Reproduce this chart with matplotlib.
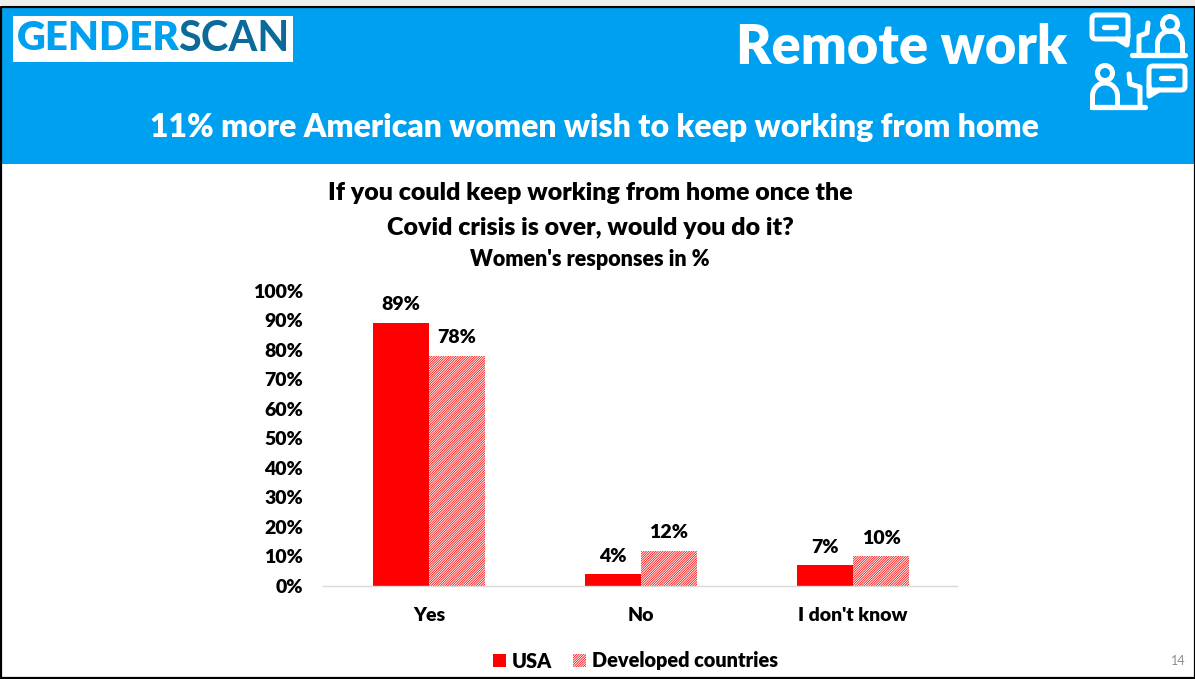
#!/usr/bin/env python3
"""Remote work slide: women's wish to keep working from home, USA vs developed countries."""

import numpy as np
import matplotlib
matplotlib.use('Agg')
import matplotlib.pyplot as plt
from matplotlib.patches import FancyBboxPatch, Rectangle, Circle, Arc

plt.rcParams['font.family'] = ['Lato', 'DejaVu Sans']
plt.rcParams['hatch.linewidth'] = 0.55

categories = ['Yes', 'No', "I don't know"]
usa = [89, 4, 7]
developed = [78, 12, 10]
y_ticks = [0, 10, 20, 30, 40, 50, 60, 70, 80, 90, 100]

W, H = 1195, 679
BLUE = '#00A0F0'
RED = '#FF0000'
DARK = '#0B6A9A'
WEIGHT = 'heavy'

fig = plt.figure(figsize=(W / 100, H / 100), dpi=100, facecolor='white')

# Overlay in pixel coordinates for the slide furniture
bg = fig.add_axes([0, 0, 1, 1])
bg.set_xlim(0, W)
bg.set_ylim(H, 0)
bg.axis('off')

bg.add_patch(Rectangle((1, 7), W - 1, 157, fc=BLUE, ec='none'))
bg.plot([1, 1, W, W, 1], [678, 6.5, 6.5, 678, 678], color='black', lw=1.6, clip_on=False)
bg.add_patch(Rectangle((0, 0), W, 5, fc='#EDEDED', ec='none'))

# Logo
bg.add_patch(Rectangle((13, 16), 280, 46, fc='white', ec='none'))
bg.text(17, 39, 'GENDER', color=BLUE, fontsize=28.8, fontweight=WEIGHT, va='center', ha='left')
bg.text(289, 39, 'SCAN', color=DARK, fontsize=30, fontweight='bold', va='center', ha='right')

bg.text(902, 48, 'Remote work', color='white', fontsize=39, fontweight=WEIGHT, va='center', ha='center')
bg.text(594, 128, '11% more American women wish to keep working from home', color='white',
        fontsize=23, fontweight=WEIGHT, va='center', ha='center')


def bubble(x, y, w, h, tail, dash):
    bg.add_patch(FancyBboxPatch((x, y), w, h, boxstyle='round,pad=0,rounding_size=4',
                                fc='none', ec='white', lw=3.6))
    bg.plot(*zip(*tail), color='white', lw=3.6, solid_capstyle='round', solid_joinstyle='round')
    bg.plot(dash[:2], [dash[2]] * 2, color='white', lw=3.8, solid_capstyle='round')


def person(cx, head_y, base_y, arm, base_x):
    bg.add_patch(Circle((cx, head_y), 7.5, fc='none', ec='white', lw=3.6))
    bg.add_patch(Arc((cx, base_y - 11), 25, 26, theta1=180, theta2=360, ec='white', lw=3.6))
    bg.plot([cx - 12.5, cx - 12.5], [base_y - 11, base_y], color='white', lw=3.6)
    bg.plot([cx + 12.5, cx + 12.5], [base_y - 11, base_y], color='white', lw=3.6)
    bg.plot(base_x, [base_y, base_y], color='white', lw=3.8, solid_capstyle='round')
    bg.plot(*zip(*arm), color='white', lw=3.6, solid_capstyle='round', solid_joinstyle='round')


bubble(1092, 15, 36, 24, [(1117, 39), (1127, 45), (1128, 36)], (1104, 1116, 27))
bubble(1149, 66, 36, 24, [(1149, 86), (1149, 96), (1159, 90)], (1161, 1173, 78))
person(1170, 24, 55, [(1139, 54), (1139, 36), (1147, 33), (1148, 23)], (1132, 1185))
person(1105, 73, 107, [(1140, 105), (1140, 87), (1130, 84), (1129, 74)], (1092, 1145))

# Chart titles
bg.text(590, 193, 'If you could keep working from home once the', color='black', fontsize=18,
        fontweight=WEIGHT, va='center', ha='center')
bg.text(590, 228, "Covid crisis is over, would you do it?", color='black', fontsize=18,
        fontweight=WEIGHT, va='center', ha='center')
bg.text(590, 259, "Women's responses in %", color='black', fontsize=15.5,
        fontweight=WEIGHT, va='center', ha='center')

bg.text(1178, 661, '14', color='#8C8C8C', fontsize=9, va='center', ha='center')

# Bars
left, right, top, bottom = 323, 959, 290.5, 586
ax = fig.add_axes([left / W, 1 - bottom / H, (right - left) / W, (bottom - top) / H])
ax.patch.set_alpha(0)

x = np.arange(len(categories))
bar_w = 56 / ((right - left) / 3)
ax.bar(x - bar_w / 2, usa, bar_w, color=RED, linewidth=0, label='USA')
ax.bar(x + bar_w / 2, developed, bar_w, facecolor='white', edgecolor=RED, hatch='//////////////',
       linewidth=0, label='Developed countries')

for i in range(len(categories)):
    ax.annotate(f'{usa[i]}%', (x[i] - bar_w / 2, usa[i]), xytext=(0, 13), textcoords='offset points',
                ha='center', va='center', fontsize=14, fontweight=WEIGHT)
    ax.annotate(f'{developed[i]}%', (x[i] + bar_w / 2, developed[i]), xytext=(0, 13), textcoords='offset points',
                ha='center', va='center', fontsize=14, fontweight=WEIGHT)

ax.set_xlim(-0.5, 2.5)
ax.set_ylim(0, 100)
ax.set_xticks(x)
ax.set_xticklabels(categories, fontsize=14, fontweight=WEIGHT)
ax.set_yticks(y_ticks)
ax.set_yticklabels([f'{v}%' for v in y_ticks], fontsize=14, fontweight=WEIGHT)
ax.tick_params(axis='both', length=0)
ax.tick_params(axis='x', pad=15)
ax.tick_params(axis='y', pad=14.5)
for side in ['top', 'left', 'right']:
    ax.spines[side].set_visible(False)
ax.spines['bottom'].set_color('#D9D9D9')
ax.spines['bottom'].set_linewidth(1)
ax.spines['bottom'].set_bounds(-0.5, 2.49)

leg = ax.legend(loc='center', bbox_to_anchor=((635.5 - left) / (right - left), (bottom - 661) / (bottom - top)),
                ncol=2, frameon=False, prop={'size': 14.3, 'weight': WEIGHT}, handlelength=0.65, handleheight=0.65,
                handletextpad=0.3, columnspacing=1.02, borderpad=0, borderaxespad=0)

fig.savefig('out.png', dpi=100, facecolor='white')
